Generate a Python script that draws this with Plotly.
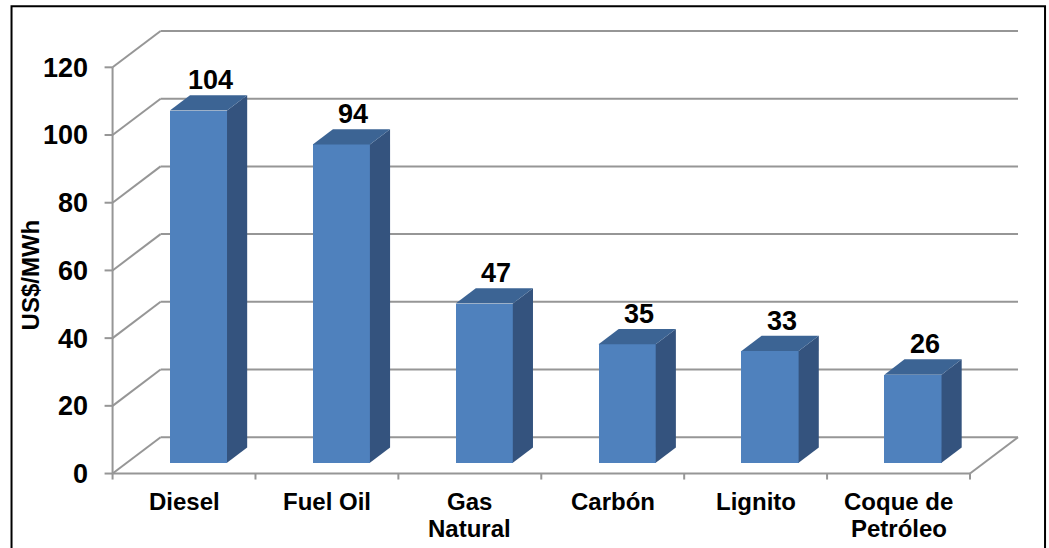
import plotly.graph_objects as go

# Generation cost by fuel (US$/MWh)
categories = ["Diesel", "Fuel Oil", "Gas<br>Natural", "Carbón", "Lignito", "Coque de<br>Petróleo"]
values = [104, 94, 47, 35, 33, 26]
y_ticks = [0, 20, 40, 60, 80, 100, 120]
y_title = "US$/MWh"

# ---- layout geometry (pixels) ----
W, H = 1049, 548
X0_PX, PX_PER_CAT = 113.0, 142.83      # front x-axis origin and category pitch
Y0_PX, PX_PER_UNIT = 473.5, 3.383      # front y-axis origin and pixels per unit
DEPTH_X = 48.0 / PX_PER_CAT            # oblique depth offset in category units
DEPTH_Y = 36.3 / PX_PER_UNIT           # oblique depth offset in value units
FRONT, BACK = 0.30, 0.72               # bar depth planes (fraction of depth)
BAR_W = 0.40

n = len(categories)
x_range = [-0.06, n + 0.42]
y_range = [-2.5, 132.5]
m_l = X0_PX + x_range[0] * PX_PER_CAT
m_r = W - (X0_PX + x_range[1] * PX_PER_CAT)
m_b = H - (Y0_PX - y_range[0] * PX_PER_UNIT)
m_t = Y0_PX - y_range[1] * PX_PER_UNIT
plot_w = W - m_l - m_r
plot_h = H - m_t - m_b


def px_x(px):
    return (px - X0_PX) / PX_PER_CAT


def px_y(py):
    return (Y0_PX - py) / PX_PER_UNIT


def paper_x(px):
    return (px - m_l) / plot_w


def paper_y(py):
    return (H - m_b - py) / plot_h


FONT = "Liberation Sans, Arial, sans-serif"
GRID = "#969696"
FRONT_C, SIDE_C, TOP_C = "#4F81BD", "#34537E", "#3C6494"
TICK_SIZE, VALUE_SIZE, CAT_SIZE, TITLE_SIZE = 27, 27, 24, 24

fig = go.Figure()
shapes = []

# back wall gridlines, left wall diagonals
for v in y_ticks:
    shapes.append(dict(type="line", xref="x", yref="y", layer="below",
                       x0=DEPTH_X, y0=v + DEPTH_Y, x1=n + DEPTH_X, y1=v + DEPTH_Y,
                       line=dict(color=GRID, width=2)))
    shapes.append(dict(type="line", xref="x", yref="y", layer="below",
                       x0=0, y0=v, x1=DEPTH_X, y1=v + DEPTH_Y,
                       line=dict(color=GRID, width=2)))
    # y tick marks
    shapes.append(dict(type="line", xref="x", yref="y",
                       x0=px_x(X0_PX - 8), y0=v, x1=0, y1=v,
                       line=dict(color=GRID, width=2)))

# floor right edge
shapes.append(dict(type="line", xref="x", yref="y", layer="below",
                   x0=n, y0=0, x1=n + DEPTH_X, y1=DEPTH_Y,
                   line=dict(color=GRID, width=2)))
# front axes
shapes.append(dict(type="line", xref="x", yref="y",
                   x0=0, y0=0, x1=0, y1=y_ticks[-1], line=dict(color=GRID, width=2)))
shapes.append(dict(type="line", xref="x", yref="y",
                   x0=0, y0=0, x1=n, y1=0, line=dict(color=GRID, width=2)))
for i in range(n + 1):
    shapes.append(dict(type="line", xref="x", yref="y",
                       x0=i, y0=0, x1=i, y1=px_y(Y0_PX + 6),
                       line=dict(color=GRID, width=2)))

# outer frame
shapes.append(dict(type="rect", xref="paper", yref="paper",
                   x0=paper_x(12), x1=paper_x(1045), y0=paper_y(600), y1=paper_y(6.5),
                   line=dict(color="black", width=2), fillcolor="rgba(0,0,0,0)"))

centers = [i + 0.5 for i in range(n)]
fx = FRONT * DEPTH_X
fy = FRONT * DEPTH_Y
bx = BACK * DEPTH_X
by = BACK * DEPTH_Y

# front faces
fig.add_trace(go.Bar(x=[c + fx for c in centers], y=values, base=[fy] * n,
                     width=BAR_W, marker=dict(color=FRONT_C, line=dict(width=0)),
                     hoverinfo="skip", showlegend=False))

# side and top faces
for c, v in zip(centers, values):
    r = c + BAR_W / 2
    l = c - BAR_W / 2
    fig.add_trace(go.Scatter(
        x=[r + fx, r + bx, r + bx, r + fx, r + fx],
        y=[fy, by, by + v, fy + v, fy],
        fill="toself", fillcolor=SIDE_C, mode="lines", line=dict(width=0, color=SIDE_C),
        hoverinfo="skip", showlegend=False))
    fig.add_trace(go.Scatter(
        x=[l + fx, r + fx, r + bx, l + bx, l + fx],
        y=[fy + v, fy + v, by + v, by + v, fy + v],
        fill="toself", fillcolor=TOP_C, mode="lines", line=dict(width=0, color=TOP_C),
        hoverinfo="skip", showlegend=False))

annotations = []
# value labels
for c, v in zip(centers, values):
    annotations.append(dict(x=c + (FRONT + BACK) / 2 * DEPTH_X, y=v + by, xref="x", yref="y",
                            text=str(v), showarrow=False, yanchor="bottom", xanchor="center",
                            xshift=2, yshift=-2,
                            font=dict(family=FONT, size=VALUE_SIZE, color="black", weight="bold")))

# category labels, one annotation per line
LINE_GAP = 27
for c, cat in zip(centers, categories):
    for k, line in enumerate(cat.split("<br>")):
        base_px = 510 + k * LINE_GAP
        annotations.append(dict(x=c, y=paper_y(base_px - 0.3465 * CAT_SIZE),
                                xref="x", yref="paper",
                                text=line, showarrow=False, yanchor="middle", xanchor="center",
                                borderpad=0,
                                font=dict(family=FONT, size=CAT_SIZE, color="black", weight="bold")))

# y-axis title
annotations.append(dict(x=paper_x(31), y=paper_y(275), xref="paper", yref="paper",
                        text=y_title, textangle=-90, showarrow=False,
                        xanchor="center", yanchor="middle",
                        font=dict(family=FONT, size=TITLE_SIZE, color="black", weight="bold")))

fig.update_layout(
    width=W, height=H, autosize=False,
    margin=dict(l=m_l, r=m_r, t=m_t, b=m_b, pad=0),
    paper_bgcolor="white", plot_bgcolor="white",
    shapes=shapes, annotations=annotations,
    xaxis=dict(range=x_range, showgrid=False, zeroline=False, showline=False,
               showticklabels=False, ticks="", fixedrange=True),
    yaxis=dict(range=y_range, showgrid=False, zeroline=False, showline=False,
               tickvals=y_ticks, ticks="", ticklabelstandoff=15,
               tickfont=dict(family=FONT, size=TICK_SIZE, color="black", weight="bold"),
               fixedrange=True),
    bargap=0, barmode="overlay",
)

fig.write_html("out.html")
